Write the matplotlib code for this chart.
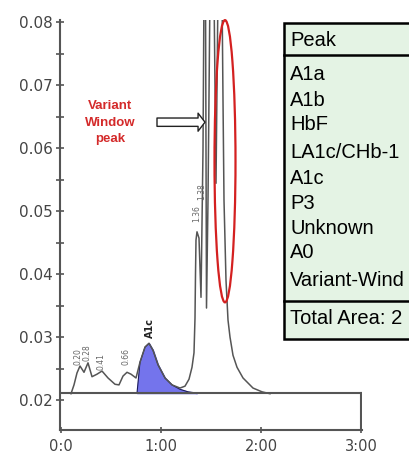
import matplotlib
matplotlib.use("Agg")
import matplotlib.pyplot as plt
from matplotlib.patches import Ellipse, Rectangle
from matplotlib.lines import Line2D

# ---- data ----
trace_t = [0.10, 0.13, 0.16, 0.19, 0.23, 0.27, 0.31, 0.36, 0.41, 0.47, 0.54, 0.58,
           0.62, 0.66, 0.70, 0.75, 0.79, 0.84, 0.88, 0.92, 0.97, 1.04, 1.11, 1.19,
           1.24, 1.28, 1.31, 1.33, 1.34, 1.345, 1.35, 1.36, 1.38, 1.40, 1.42, 1.43,
           1.445, 1.455, 1.47, 1.49, 1.53, 1.55, 1.57, 1.61, 1.62, 1.63, 1.65, 1.67,
           1.69, 1.72, 1.76, 1.82, 1.92, 2.01, 2.09]
trace_y = [0.0210, 0.0224, 0.0243, 0.0254, 0.0244, 0.0259, 0.0237, 0.0241, 0.0246,
           0.0235, 0.0225, 0.0224, 0.0238, 0.0244, 0.0241, 0.0235, 0.0260, 0.0284,
           0.0290, 0.0279, 0.0256, 0.0235, 0.0224, 0.0219, 0.0222, 0.0233, 0.0252,
           0.0275, 0.0330, 0.0400, 0.0454, 0.0467, 0.0457, 0.0363, 0.0597, 0.0850,
           0.0850, 0.0346, 0.0517, 0.0850, 0.0850, 0.0544, 0.0850, 0.0850, 0.0676,
           0.0517, 0.0390, 0.0327, 0.0300, 0.0271, 0.0252, 0.0235, 0.0219, 0.0213,
           0.0210]

a1c_t = [0.76, 0.79, 0.84, 0.88, 0.92, 0.97, 1.04, 1.11, 1.19, 1.27, 1.36]
a1c_y = [0.0211, 0.0260, 0.0284, 0.0290, 0.0279, 0.0256, 0.0235, 0.0224, 0.0217,
         0.0213, 0.0211]
baseline = 0.0211

peak_labels = ["0.20", "0.28", "0.41", "0.66", "A1c", "1.36", "1.38"]
peak_label_t = [0.17, 0.26, 0.40, 0.65, 0.89, 1.36, 1.41]
peak_label_y = [0.0256, 0.0262, 0.0248, 0.0256, 0.0298, 0.0483, 0.0517]

x_ticks = [0, 1, 2, 3]
x_ticklabels = ["0:0", "1:00", "2:00", "3:00"]
y_ticks = [0.02, 0.03, 0.04, 0.05, 0.06, 0.07, 0.08]
y_ticklabels = ["0.02", "0.03", "0.04", "0.05", "0.06", "0.07", "0.08"]

table_rows = ["A1a", "A1b", "HbF", "LA1c/CHb-1", "A1c", "P3", "Unknown", "A0",
              "Variant-Wind"]
table_header = "Peak"
table_footer = "Total Area: 2"

# ---- figure ----
W, H = 409, 459
fig = plt.figure(figsize=(W / 100, H / 100), dpi=100)
ax = fig.add_axes([60 / W, 1 - 430 / H, 302 / W, 410 / H])
ax.set_xlim(-0.01, 3.01)
ax.set_ylim(0.01524, 0.08032)

gray = "#555555"
ax.plot(trace_t, trace_y, color=gray, lw=1.1, zorder=3)
ax.fill_between(a1c_t, baseline, a1c_y, color="#7474ec", zorder=2)
ax.plot(a1c_t, a1c_y, color="#1c1c5a", lw=0.8, zorder=2.5)

# baseline box
ax.plot([-0.01, 3.0], [baseline, baseline], color=gray, lw=1.5, zorder=4)
ax.plot([3.0, 3.0], [0.01524, baseline], color=gray, lw=1.5, zorder=4)

for lab, t, y in zip(peak_labels, peak_label_t, peak_label_y):
    if lab == "A1c":
        ax.text(t, y, lab, rotation=90, ha="center", va="bottom", fontsize=7,
                fontweight="bold", color="#222222", family="DejaVu Sans")
    else:
        ax.text(t, y, lab, rotation=90, ha="center", va="bottom", fontsize=5.5,
                color="#666666", family="DejaVu Sans")

# red ellipse
ax.add_patch(Ellipse((1.64, 0.0579), 0.21, 0.0448, fill=False, ec="#d42020",
                     lw=1.6, zorder=5, clip_on=False))

# annotation text and arrow
ax.text(0.49, 0.0640, "Variant\nWindow\npeak", color="#d42a2a", fontsize=9.5,
        fontweight="bold", ha="center", va="center", linespacing=1.5,
        family="Liberation Sans")
ax.annotate("", xy=(1.44, 0.0641), xytext=(0.96, 0.0641),
            arrowprops=dict(arrowstyle="simple,head_length=5,head_width=13,tail_width=6",
                            mutation_scale=1, fc="white", ec="#222222", lw=1.0,
                            shrinkA=0, shrinkB=0))

# axes styling
for s in ["top", "right"]:
    ax.spines[s].set_visible(False)
for s in ["left", "bottom"]:
    ax.spines[s].set_color(gray)
    ax.spines[s].set_linewidth(1.5)
ax.set_xticks(x_ticks)
ax.set_xticklabels(x_ticklabels)
ax.set_yticks(y_ticks)
ax.set_yticklabels(y_ticklabels)
ax.set_yticks([0.025, 0.035, 0.045, 0.055, 0.065, 0.075], minor=True)
ax.tick_params(axis="y", which="both", direction="inout", length=6, width=1.2,
               color=gray, labelsize=11, labelcolor="#444444", pad=2)
ax.tick_params(axis="x", which="both", direction="inout", length=5, width=1.2,
               color=gray, labelsize=10.5, labelcolor="#444444", pad=4)

# table (overlay, running past the figure edge)
tl, tt, tb = 284, 23, 339
fig.add_artist(Rectangle((tl / W, 1 - tb / H), 0.5, (tb - tt) / H,
                         transform=fig.transFigure, fc="#e4f3e4", ec="black",
                         lw=1.8, zorder=10))
for yy in [55, 301]:
    fig.add_artist(Line2D([tl / W, 1.2], [1 - yy / H, 1 - yy / H],
                          transform=fig.transFigure, color="black", lw=1.8,
                          zorder=11))
tkw = dict(fontsize=14.5, family="Liberation Sans", color="black", ha="left",
           va="center", zorder=12)
fig.text(290 / W, 1 - 40 / H, table_header, **tkw)
row_y = [75, 100, 125, 152, 178, 203, 228, 253, 280]
for lab, yy in zip(table_rows, row_y):
    fig.text(290 / W, 1 - yy / H, lab, **tkw)
fig.text(290 / W, 1 - 318 / H, table_footer, **tkw)

fig.savefig("out.png", dpi=100)
